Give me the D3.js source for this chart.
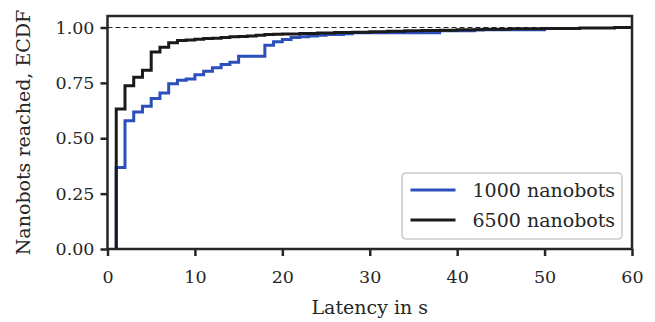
<!DOCTYPE html>
<html>
<head>
<meta charset="utf-8">
<script src="https://cdn.jsdelivr.net/npm/d3@7"></script>
<style>
  body { margin: 0; background: #fff; }
  svg text { font-family: "DejaVu Serif", "Liberation Serif", serif !important; fill: #262626; }
</style>
</head>
<body>
<div id="chart"></div>
<script>
// ECDF steps: latency (s) where a step happens, and the ECDF value after it
const latency1000 = [1, 1, 2, 3, 4, 5, 6, 7, 8, 9, 10, 11, 12, 13, 14, 15, 18, 19, 20, 21, 22, 23, 24, 25, 27, 28, 38, 42, 50]
const ecdf1000    = [0, 0.368, 0.579, 0.618, 0.644, 0.679, 0.704, 0.746, 0.762, 0.768, 0.787, 0.802, 0.818, 0.833, 0.843, 0.870, 0.920, 0.936, 0.946, 0.955, 0.958, 0.962, 0.965, 0.968, 0.972, 0.976, 0.985, 0.990, 1.0]

const latency6500 = [1, 1, 2, 3, 4, 5, 6, 7, 8, 9, 10, 11, 12, 13, 14, 15, 16, 17, 18, 19, 20, 22, 24, 26, 28, 30, 32, 34, 36, 38, 40, 43, 46, 50, 54, 58, 60]
const ecdf6500    = [0, 0.632, 0.737, 0.775, 0.807, 0.890, 0.911, 0.931, 0.941, 0.944, 0.947, 0.950, 0.952, 0.955, 0.958, 0.960, 0.962, 0.965, 0.968, 0.970, 0.971, 0.973, 0.975, 0.977, 0.979, 0.981, 0.983, 0.985, 0.987, 0.988, 0.990, 0.992, 0.994, 0.996, 0.998, 1.0, 1.0]

const seriesNames = ["1000 nanobots", "6500 nanobots"]
const seriesColors = ["#2b4fbb", "#1a1a1a"]
const xTicks = [0, 10, 20, 30, 40, 50, 60]
const yTicks = [0, 0.25, 0.5, 0.75, 1.0]

const width = 655, height = 322
const margin = {left: 107.5, right: 23, top: 16, bottom: 73}

const svg = d3.select("#chart").append("svg")
    .attr("width", width)
    .attr("height", height)
    .attr("viewBox", [0, 0, width, height])

const xScale = d3.scaleLinear().domain([0, 60]).range([margin.left, width - margin.right])
const yScale = d3.scaleLinear().domain([0, 1.052]).range([height - margin.bottom, margin.top])

//dashed reference line at 1.0
svg.append("line")
    .attr("x1", xScale(0)).attr("x2", xScale(60))
    .attr("y1", yScale(1)).attr("y2", yScale(1))
    .attr("stroke", "#262626").attr("stroke-width", 1.2)
    .attr("stroke-dasharray", "5,3")

//ecdf step lines
const stepLine = d3.line()
    .curve(d3.curveStepAfter)
    .x(d => xScale(d[0]))
    .y(d => yScale(d[1]))

const series = [
    d3.zip(latency1000, ecdf1000),
    d3.zip(latency6500, ecdf6500)
]
series.forEach((pts, i) => {
    svg.append("path")
        .datum(pts)
        .attr("fill", "none")
        .attr("stroke", seriesColors[i])
        .attr("stroke-width", 3)
        .attr("d", stepLine)
})

//axes
const xAxis = svg.append("g")
    .attr("transform", `translate(0,${height - margin.bottom})`)
    .call(d3.axisBottom(xScale).tickValues(xTicks).tickSize(7).tickPadding(6).tickSizeOuter(0))
const yAxis = svg.append("g")
    .attr("transform", `translate(${margin.left},0)`)
    .call(d3.axisLeft(yScale).tickValues(yTicks).tickFormat(d3.format(".2f")).tickSize(7).tickPadding(6).tickSizeOuter(0))

for (const ax of [xAxis, yAxis]) {
    ax.attr("font-family", null)
    ax.select(".domain").remove()
    ax.selectAll(".tick line").attr("stroke", "#262626").attr("stroke-width", 2.5)
    ax.selectAll(".tick text").attr("font-size", "17.5px").attr("fill", "#262626")
}
xAxis.selectAll(".tick text").attr("dy", "21px")

//frame
svg.append("rect")
    .attr("x", xScale(0)).attr("y", yScale(1.052))
    .attr("width", xScale(60) - xScale(0))
    .attr("height", yScale(0) - yScale(1.052))
    .attr("fill", "none").attr("stroke", "#262626").attr("stroke-width", 2.5)

//axis labels
svg.append("text")
    .attr("x", (xScale(0) + xScale(60)) / 2)
    .attr("y", 314)
    .attr("text-anchor", "middle")
    .attr("font-size", "19px")
    .text("Latency in s")

svg.append("text")
    .attr("transform", `translate(30,${(yScale(0) + yScale(1.052)) / 2}) rotate(-90)`)
    .attr("text-anchor", "middle")
    .attr("font-size", "19px")
    .text("Nanobots reached, ECDF")

//legend
const legend = svg.append("g").attr("transform", "translate(402,173)")
legend.append("rect")
    .attr("width", 220).attr("height", 66).attr("rx", 4)
    .attr("fill", "white").attr("fill-opacity", 0.8)
    .attr("stroke", "#cccccc").attr("stroke-width", 1.6)
seriesNames.forEach((name, i) => {
    const y = 17 + i * 30
    legend.append("line")
        .attr("x1", 8.5).attr("x2", 53.5)
        .attr("y1", y).attr("y2", y)
        .attr("stroke", seriesColors[i]).attr("stroke-width", 3)
    legend.append("text")
        .attr("x", 70.5).attr("y", y)
        .attr("dy", "0.35em")
        .attr("font-size", "19px")
        .text(name)
})
</script>
</body>
</html>
